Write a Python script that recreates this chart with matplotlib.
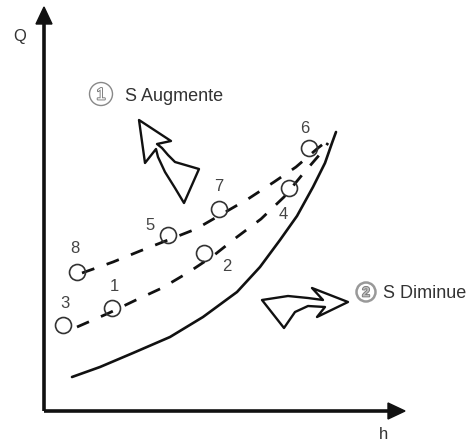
import matplotlib
matplotlib.use("Agg")
import matplotlib.pyplot as plt
import matplotlib.patches as mpatches
import matplotlib.patheffects as pe

plt.rcParams['font.family'] = ['Liberation Sans', 'DejaVu Sans']

# points mesures (h, Q)
pt_names = ['1', '2', '3', '4', '5', '6', '7', '8']
pt_h = [68, 160, 19, 245, 124, 265, 175, 33]
pt_Q = [103, 158, 86, 223, 176, 263, 202, 139]
lab_h = [70, 183, 21, 239, 106, 261, 175, 31]
lab_Q = [120, 140, 103, 192, 181, 278, 220, 158]

# courbe S augmente (pointillé haut)
up_h = [38, 69, 96, 124, 152, 204, 230, 252, 274, 283]
up_Q = [138, 149, 160, 171, 182, 212, 229, 244, 263, 270]
# courbe S diminue (pointillé bas)
lo_h = [33, 65, 92, 118, 145, 169, 193, 217, 240, 258, 277, 284]
lo_Q = [84, 98, 111, 123, 139, 155, 174, 192, 214, 236, 258, 268]
# courbe réseau (trait plein)
cr_h = [28, 56, 89, 126, 159, 193, 216, 236, 253, 269, 281, 288, 292]
cr_Q = [34, 44, 58, 74, 94, 119, 144, 171, 195, 224, 248, 268, 279]

# flèches creuses (contours)
arr1_h = [95, 127, 113, 118, 124, 131, 155, 140, 131, 121, 114, 112, 101, 95]
arr1_Q = [291, 270, 267, 263, 256, 249, 242, 208, 223, 239, 254, 262, 248, 291]
arr2_h = [304, 268, 279, 264, 244, 218, 240, 251, 264, 281, 273, 304]
arr2_Q = [109, 123, 111, 113, 115, 111, 83, 99, 105, 104, 94, 109]

fig = plt.figure(figsize=(4.72, 4.42), dpi=100)
ax = fig.add_axes([0, 0, 1, 1])
ax.set_xlim(-44, 428)
ax.set_ylim(-31, 411)
ax.axis('off')

k = '#111111'
# axes avec flèches
ax.plot([0, 0], [0, 390], color=k, lw=2.6, solid_capstyle='butt')
ax.plot([0, 346], [0, 0], color=k, lw=2.6, solid_capstyle='butt')
ax.fill([-8, 8, 0], [387, 387, 404], color=k)
ax.fill([344, 344, 361], [-8, 8, 0], color=k)
ax.text(-24, 370, 'Q', fontsize=12, color='#333333', ha='center', va='baseline')
ax.text(339, -28, 'h', fontsize=12, color='#333333', ha='center', va='baseline')

ax.plot(cr_h, cr_Q, color=k, lw=1.9, solid_capstyle='round')
ax.plot(up_h, up_Q, color=k, lw=2.0, linestyle=(0, (4.7, 4.7)))
ax.plot(lo_h, lo_Q, color=k, lw=2.0, linestyle=(0, (4.7, 4.7)))

ax.plot(pt_h, pt_Q, linestyle='none', marker='o', markersize=11.5,
        markerfacecolor='none', markeredgecolor='#333333', markeredgewidth=1.2)
for name, x, y in zip(pt_names, lab_h, lab_Q):
    ax.text(x, y, name, fontsize=12, color='#444444', ha='center', va='baseline')

ax.fill(arr1_h, arr1_Q, facecolor='white', edgecolor=k, lw=1.7, joinstyle='round')
ax.fill(arr2_h, arr2_Q, facecolor='white', edgecolor=k, lw=1.7, joinstyle='round')

# annotations
ax.add_patch(mpatches.Circle((57, 317), 11.5, facecolor='none', edgecolor='#888888', lw=1.0))
ax.text(57, 311.5, '1', fontsize=12, color='white', ha='center', va='baseline',
        path_effects=[pe.Stroke(linewidth=1.3, foreground='#777777'), pe.Normal()])
ax.text(81, 310, 'S Augmente', fontsize=13, color='#333333', ha='left', va='baseline')

ax.add_patch(mpatches.Circle((322, 119), 9.5, facecolor='none', edgecolor='#999999', lw=1.8))
ax.text(322, 114.5, '2', fontsize=10, fontweight='bold', color='#bbbbbb', ha='center',
        va='baseline', path_effects=[pe.Stroke(linewidth=1.2, foreground='#777777'), pe.Normal()])
ax.text(339, 112.5, 'S Diminue', fontsize=13, color='#333333', ha='left', va='baseline')

fig.savefig('out.png', dpi=100, facecolor='white')
